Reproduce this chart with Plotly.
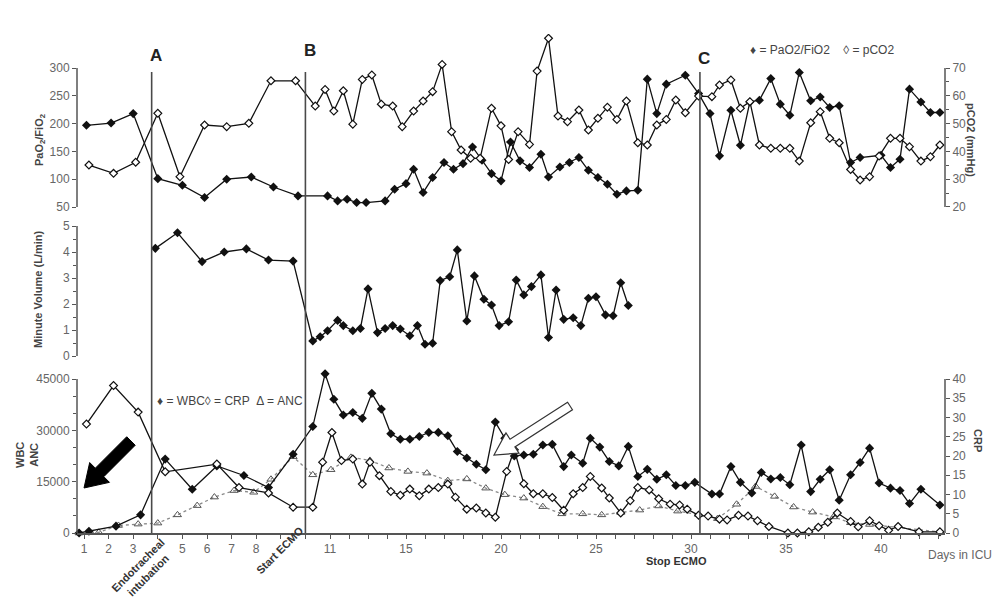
import math
import plotly.graph_objects as go

# ---- data (x in days in ICU) ----
pf_days = [1.1, 2.1, 3.0, 4.0, 5.0, 5.9, 6.8, 7.8, 8.7, 9.7, 10.9, 11.4, 11.9, 12.4, 12.9, 13.9,
           14.4, 15.0, 15.4, 15.9, 16.4, 17.0, 17.5, 18.0, 18.5, 19.0, 19.5, 20.0, 20.5, 21.0,
           21.5, 22.1, 22.5, 23.1, 23.6, 24.1, 24.6, 25.1, 25.6, 26.1, 26.6, 27.2, 27.7, 28.2,
           28.7, 29.7, 30.4, 31.0, 31.5, 32.1, 32.6, 33.1, 33.6, 34.2, 34.7, 35.2, 35.7, 36.3,
           36.8, 37.3, 37.8, 38.4, 38.9, 40.0, 40.5, 41.0, 41.5, 42.1, 42.6, 43.1]
pf_ratio = [197, 201, 218, 101, 89, 67, 100, 104, 86, 70, 70, 61, 64, 58, 58, 61,
            82, 92, 118, 76, 103, 130, 118, 128, 158, 134, 110, 97, 167, 133,
            121, 145, 104, 122, 130, 139, 116, 103, 91, 73, 79, 80, 280, 218,
            271, 287, 254, 218, 142, 224, 161, 239, 242, 281, 235, 215, 292, 241,
            248, 229, 232, 130, 139, 143, 121, 136, 262, 239, 220, 220]

pco2_days = [1.2, 2.2, 3.1, 4.0, 4.9, 5.9, 6.8, 7.7, 8.6, 9.6, 10.4, 10.8, 11.2, 11.7, 12.2,
             12.7, 13.2, 13.7, 14.3, 14.8, 15.4, 15.9, 16.4, 16.9, 17.4, 17.9, 18.4, 18.9,
             19.5, 20.0, 20.4, 20.9, 21.5, 21.9, 22.5, 23.0, 23.5, 24.1, 24.6, 25.1, 25.6,
             26.1, 26.6, 27.2, 27.7, 28.2, 28.7, 29.2, 29.7, 30.4, 31.1, 31.5, 32.1, 32.6,
             33.1, 33.6, 34.2, 34.7, 35.2, 35.7, 36.3, 36.8, 37.3, 37.8, 38.4, 38.9, 39.4,
             39.9, 40.5, 41.0, 41.5, 42.1, 42.6, 43.1]
pco2 = [35.1, 32.1, 36.1, 53.7, 30.9, 49.5, 48.9, 50.1, 65.4, 65.4, 56.3, 62.3, 54.5, 61.8, 49.8,
        65.9, 67.5, 57.0, 56.3, 48.9, 54.5, 58.1, 61.5, 71.3, 47.1, 40.5, 37.5, 37.5,
        55.5, 49.2, 37.1, 47.1, 42.5, 68.9, 80.7, 52.7, 50.7, 54.9, 47.7, 51.9, 55.9,
        51.5, 58.1, 43.1, 42.3, 49.5, 51.5, 58.5, 53.9, 59.9, 59.7, 63.9, 65.7, 55.5,
        57.9, 42.3, 41.1, 41.1, 41.1, 36.5, 50.3, 54.3, 44.7, 43.1, 33.5, 29.7, 30.9,
        38.3, 44.7, 44.7, 41.7, 36.5, 38.1, 42.3]

mv_days = [3.9, 4.8, 5.8, 6.7, 7.6, 8.5, 9.5, 10.3, 10.6, 10.9, 11.4, 11.7, 12.2, 12.6, 13.0,
           13.5, 13.9, 14.3, 14.7, 15.2, 15.6, 16.0, 16.4, 16.8, 17.3, 17.7, 18.2, 18.6,
           19.1, 19.5, 19.9, 20.4, 20.8, 21.2, 21.6, 22.1, 22.5, 22.9, 23.3, 23.8, 24.2,
           24.6, 25.0, 25.5, 25.9, 26.3, 26.7]
minute_volume = [4.14, 4.74, 3.63, 4.0, 4.12, 3.69, 3.65, 0.58, 0.74, 0.97, 1.37, 1.17, 0.97, 1.06, 2.58,
                 0.90, 1.06, 1.17, 1.04, 0.78, 1.17, 0.45, 0.49, 2.90, 3.05, 4.08, 1.35, 3.08,
                 2.18, 1.96, 1.17, 1.32, 2.92, 2.35, 2.67, 3.12, 0.71, 2.54, 1.41, 1.47, 1.17,
                 2.22, 2.28, 1.58, 1.55, 2.82, 1.94]

wbc_days = [0.8, 1.2, 2.3, 3.3, 4.3, 5.4, 6.4, 7.5, 8.5, 9.5, 10.3, 10.8, 11.2, 11.7, 12.2, 12.7,
            13.2, 13.7, 14.2, 14.7, 15.2, 15.7, 16.2, 16.7, 17.2, 17.7, 18.2, 18.7, 19.2,
            19.7, 20.2, 20.7, 21.2, 21.7, 22.2, 22.7, 23.3, 23.7, 24.3, 24.7, 25.2, 25.7,
            26.2, 26.7, 27.2, 27.7, 28.2, 28.7, 29.2, 29.7, 30.2, 31.1, 31.5, 32.1, 32.6,
            33.2, 33.7, 34.2, 34.7, 35.2, 35.8, 36.3, 36.8, 37.3, 37.8, 38.4, 38.9, 39.4,
            39.9, 40.5, 41.0, 41.5, 42.1, 43.1]
wbc = [0, 500, 2000, 5300, 21600, 12800, 19600, 16800, 13300, 23000, 31100, 46500, 39100, 34500,
       35200, 33500, 40800, 36200, 29000, 27400, 27400, 28200, 29400, 29400, 28400, 23800,
       21900, 20100, 18500, 32400, 27700, 22500, 22800, 23000, 25700, 25900, 19400, 22800,
       20400, 27700, 25100, 20900, 19600, 25300, 16500, 18600, 15700, 17000, 13900, 13900,
       14800, 11400, 11400, 19400, 14800, 11700, 17700, 15800, 16200, 14100, 25700, 12100,
       15700, 18500, 9600, 17000, 20600, 24800, 14600, 13100, 12400, 8600, 12800, 8200]

crp_days = [1.1, 2.2, 3.2, 4.3, 6.4, 7.3, 8.5, 9.5, 10.3, 10.7, 11.1, 11.6, 12.2, 12.7, 13.1,
            13.6, 14.2, 14.7, 15.2, 15.7, 16.2, 16.7, 17.2, 17.6, 18.2, 18.7, 19.2, 19.7,
            20.3, 20.7, 21.2, 21.7, 22.2, 22.7, 23.3, 23.8, 24.3, 24.7, 25.3, 25.7, 26.3,
            26.8, 27.2, 27.8, 28.3, 28.9, 29.4, 29.8, 30.4, 30.9, 31.5, 31.9, 32.5, 33.0,
            33.5, 34.1, 35.1, 35.6, 36.2, 36.7, 37.2, 37.7, 38.4, 38.8, 39.4, 39.9, 40.4,
            40.9, 42.0, 43.1]
crp = [28.3, 38.3, 31.4, 15.9, 17.9, 11.8, 10.4, 6.7, 6.7, 18.4, 26.1, 18.8, 19.2, 12.7, 18.4,
       14.9, 10.8, 9.8, 11.4, 9.7, 11.4, 11.8, 12.7, 9.3, 6.2, 6.5, 5.2, 4.1,
       16.0, 21.6, 12.8, 10.2, 10.2, 9.2, 5.9, 10.2, 11.8, 14.7, 11.7, 9.1, 5.2,
       8.4, 11.8, 11.2, 8.9, 7.5, 7.3, 6.2, 4.6, 4.4, 3.6, 3.4, 4.6, 4.4,
       3.2, 1.7, 0, 0, 0.3, 1.5, 2.8, 5.2, 3.0, 1.6, 3.2, 1.9, 0.7,
       1.7, 0.3, 0.3]

anc_days = [0.8, 1.6, 2.4, 3.2, 4.0, 4.8, 5.6, 6.3, 7.1, 7.9, 8.6, 9.5, 10.3, 11.05, 12.1, 13.1,
            14.1, 15.1, 16.1, 17.2, 18.2, 19.2, 20.2, 21.2, 22.2, 23.2, 24.3, 25.3, 26.3,
            27.3, 28.3, 29.3, 30.4, 31.4, 32.4, 33.4, 34.4, 35.4, 36.4, 37.5, 38.4, 39.4, 43.1]
anc = [0, 200, 2200, 2600, 2900, 5300, 8000, 10500, 12400, 11900, 15700, 22300, 17000, 18500,
       22100, 21200, 19000, 18000, 17500, 15300, 15800, 13100, 11200, 10200, 7700, 5600,
       5600, 5300, 6000, 6700, 7900, 6400, 5400, 4200, 8400, 13600, 10700, 7600, 6100,
       4700, 3000, 2500, 300]

tick_days = list(range(1, 44))
tick_labels = {1: '1', 2: '2', 3: '3', 5: '5', 6: '6', 7: '7', 8: '8', 11: '11',
               15: '15', 20: '20', 25: '25', 30: '30', 35: '35', 40: '40'}

events = [(3.75, 'A'), (10.0, 'B'), (30.47, 'C')]


def pos(d):
    # the time axis is stretched for the first ten days
    return d if d <= 11 else 11 + (d - 11) * 19 / 24.6


def px(x, y):
    # screen pixel -> paper coordinates for decorations
    return (x - 77) / 868, (533 - y) / 499


def arrow_path(tail, head, shaft, head_w, head_len):
    dx, dy = head[0] - tail[0], head[1] - tail[1]
    L = math.hypot(dx, dy)
    ux, uy = dx / L, dy / L
    nx, ny = -uy, ux
    bx, by = head[0] - ux * head_len, head[1] - uy * head_len
    pts = [
        (tail[0] + nx * shaft / 2, tail[1] + ny * shaft / 2),
        (bx + nx * shaft / 2, by + ny * shaft / 2),
        (bx + nx * head_w / 2, by + ny * head_w / 2),
        head,
        (bx - nx * head_w / 2, by - ny * head_w / 2),
        (bx - nx * shaft / 2, by - ny * shaft / 2),
        (tail[0] - nx * shaft / 2, tail[1] - ny * shaft / 2),
    ]
    pp = [px(*p) for p in pts]
    return 'M ' + ' L '.join(f'{a:.4f},{b:.4f}' for a, b in pp) + ' Z'


LINE = '#111111'
MS = 6
fig = go.Figure()

fig.add_trace(go.Scatter(x=[pos(d) for d in pco2_days], y=pco2, yaxis='y2', mode='lines+markers',
                         line=dict(color=LINE, width=1.3),
                         marker=dict(symbol='diamond', size=MS, color='white', line=dict(color=LINE, width=1.2))))
fig.add_trace(go.Scatter(x=[pos(d) for d in pf_days], y=pf_ratio, yaxis='y', mode='lines+markers',
                         line=dict(color=LINE, width=1.3),
                         marker=dict(symbol='diamond', size=MS + 1, color=LINE)))
fig.add_trace(go.Scatter(x=[pos(d) for d in mv_days], y=minute_volume, yaxis='y3', mode='lines+markers',
                         line=dict(color=LINE, width=1.3),
                         marker=dict(symbol='diamond', size=MS + 1, color=LINE)))
fig.add_trace(go.Scatter(x=[pos(d) for d in anc_days], y=anc, yaxis='y4', mode='lines+markers',
                         line=dict(color='#8a8a8a', width=1.3, dash='dot'), cliponaxis=False,
                         marker=dict(symbol='triangle-up-open', size=MS + 1, color='#555555', line=dict(width=1))))
fig.add_trace(go.Scatter(x=[pos(d) for d in crp_days], y=crp, yaxis='y5', mode='lines+markers',
                         line=dict(color=LINE, width=1.3), cliponaxis=False,
                         marker=dict(symbol='diamond', size=MS, color='white', line=dict(color=LINE, width=1.2))))
fig.add_trace(go.Scatter(x=[pos(d) for d in wbc_days], y=wbc, yaxis='y4', mode='lines+markers',
                         line=dict(color=LINE, width=1.3), cliponaxis=False,
                         marker=dict(symbol='diamond', size=MS + 1, color=LINE)))

TICKF = dict(family='Liberation Sans, Arial', size=12, color='#666666')
AX = '#555555'
yax_common = dict(showgrid=False, zeroline=False, showline=False, ticks='outside', ticklen=4,
                  tickcolor=AX, tickwidth=1, tickfont=TICKF, anchor='x', tickmode='array',
                  automargin=False)

shapes = []
# axis lines
for yref, lo, hi, xp in [('y', 50, 300, 0), ('y3', 0, 5, 0), ('y4', 0, 45000, 0),
                          ('y2', 20, 70, 1), ('y5', 0, 40, 1)]:
    shapes.append(dict(type='line', xref='paper', yref=yref, x0=xp, x1=xp, y0=lo, y1=hi,
                       line=dict(color=AX, width=1.5)))
# event lines
for d, lab in events:
    shapes.append(dict(type='line', xref='x', yref='paper', x0=pos(d), x1=pos(d),
                       y0=0, y1=px(0, 72)[1], line=dict(color='#4a4a4a', width=1.6)))
# arrows
shapes.append(dict(type='path', xref='paper', yref='paper',
                   path=arrow_path((131, 441), (84, 488), 12, 28, 22),
                   fillcolor='#000000', line=dict(color='#000000', width=1)))
shapes.append(dict(type='path', xref='paper', yref='paper',
                   path=arrow_path((570, 406), (494, 455), 9, 24, 22),
                   fillcolor='white', line=dict(color='#333333', width=1.2)))

annotations = []


def note(x, y, text, size=12, color='#444444', angle=0, bold=False, align='center'):
    ax, ay = px(x, y)
    annotations.append(dict(x=ax, y=ay, xref='paper', yref='paper', text=f'<b>{text}</b>' if bold else text,
                            showarrow=False, textangle=angle, align=align,
                            xanchor='center', yanchor='middle',
                            font=dict(family='Liberation Sans, Arial', size=size, color=color)))


for (d, lab), ypix in zip(events, [55, 50, 58]):
    ax = (pos(d) - 0.715) / (36.0 - 0.715)
    annotations.append(dict(x=ax + 0.005, y=px(0, ypix)[1], xref='paper', yref='paper', text=f'<b>{lab}</b>',
                            showarrow=False, xanchor='center', yanchor='middle',
                            font=dict(family='Liberation Sans, Arial', size=17, color='#222222')))

note(822, 50, '♦ = PaO2/FiO2    ◊ = pCO2', size=12, color='#444444')
note(230, 401, '♦ = WBC◊ = CRP  Δ = ANC', size=12, color='#444444')
note(40, 140, 'PaO<sub>2</sub>/FiO<sub>2</sub>', size=11, angle=-90, bold=True)
note(38, 290, 'Minute Volume (L/min)', size=11, angle=-90, bold=True)
note(971, 140, 'pCO2 (mmHg)', size=11, angle=90, bold=True)
note(27, 455, 'WBC<br>ANC', size=11, angle=-90, bold=True)
note(978, 440, 'CRP', size=11, angle=90, bold=True)
note(143, 570, 'Endotracheal<br>intubation', size=11, angle=-45, bold=True, color='#333333')
note(280, 550, 'Start ECMO', size=11, angle=-45, bold=True, color='#333333')
note(676, 561, 'Stop ECMO', size=11, bold=True, color='#333333')
note(960, 555, 'Days in ICU', size=12, color='#666666')

# the page places the figure 8px in from the top-left corner
fig.update_layout(
    width=988, height=595,
    margin=dict(l=69, r=51, t=26, b=70, autoexpand=False),
    paper_bgcolor='white', plot_bgcolor='white',
    showlegend=False,
    xaxis=dict(domain=[0, 1], range=[0.715, 36.0], anchor='y4', showgrid=False, zeroline=False,
               showline=True, linecolor=AX, linewidth=1.5, ticks='outside', ticklen=4, tickcolor=AX,
               tickmode='array', tickvals=[pos(d) for d in tick_days], automargin=False,
               ticktext=[tick_labels.get(d, '') for d in tick_days], tickfont=TICKF),
    yaxis=dict(domain=[px(0, 209.8)[1], 1], range=[44.96, 361.2],
               tickvals=[50, 100, 150, 200, 250, 300], ticktext=['50', '100', '150', '200', '250', '300'],
               **yax_common),
    yaxis2=dict(overlaying='y', side='right', range=[18.99, 82.23],
                tickvals=[20, 30, 40, 50, 60, 70], ticktext=['20', '30', '40', '50', '60', '70'],
                minor=dict(ticks='outside', ticklen=3, tickcolor=AX, tickvals=[25, 35, 45, 55, 65]),
                **yax_common),
    yaxis3=dict(domain=[px(0, 358)[1], px(0, 222)[1]], range=[-0.077, 5.154],
                tickvals=[0, 1, 2, 3, 4, 5], ticktext=['0', '1', '2', '3', '4', '5'],
                minor=dict(ticks='outside', ticklen=3, tickcolor=AX, tickvals=[0.5, 1.5, 2.5, 3.5, 4.5]),
                **yax_common),
    yaxis4=dict(domain=[0, px(0, 372)[1]], range=[0, 47045],
                tickvals=[0, 15000, 30000, 45000], ticktext=['0', '15000', '30000', '45000'],
                minor=dict(ticks='outside', ticklen=3, tickcolor=AX,
                           tickvals=[5000, 10000, 20000, 25000, 35000, 40000]),
                **yax_common),
    yaxis5=dict(overlaying='y4', side='right', range=[0, 41.82],
                tickvals=[0, 5, 10, 15, 20, 25, 30, 35, 40],
                ticktext=['0', '5', '10', '15', '20', '25', '30', '35', '40'], **yax_common),
    shapes=shapes,
    annotations=annotations,
)

fig.write_html('out.html')
